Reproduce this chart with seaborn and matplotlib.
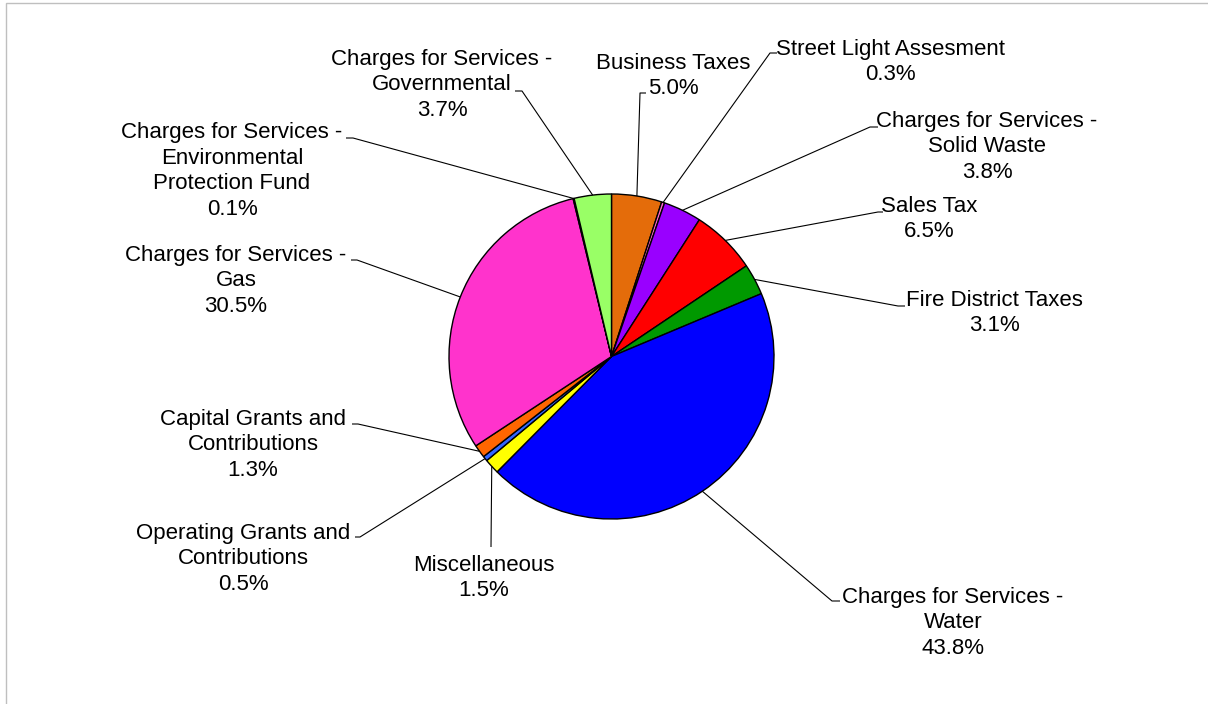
import numpy as np
import matplotlib
matplotlib.use("Agg")
import matplotlib.pyplot as plt
from matplotlib.patches import Rectangle
import seaborn as sns

# Revenue sources, listed clockwise from 12 o'clock
categories = [
    "Business Taxes",
    "Street Light Assesment",
    "Charges for Services -\nSolid Waste",
    "Sales Tax",
    "Fire District Taxes",
    "Charges for Services -\nWater",
    "Miscellaneous",
    "Operating Grants and\nContributions",
    "Capital Grants and\nContributions",
    "Charges for Services -\nGas",
    "Charges for Services -\nEnvironmental\nProtection Fund",
    "Charges for Services -\nGovernmental",
]
shares = [5.0, 0.3, 3.8, 6.5, 3.1, 43.8, 1.5, 0.5, 1.3, 30.5, 0.1, 3.7]
slice_colors = [
    "#E46C0A", "#FF66CC", "#9900FF", "#FF0000", "#009900", "#0000FF",
    "#FFFF00", "#3366FF", "#FF6600", "#FF33CC", "#99CCFF", "#99FF66",
]

# Layout (pixel space, y grows downward)
W, H = 1208, 704
CX, CY, R = 611.5, 356.5, 162.5
label_xy = [
    (673, 76), (890, 62), (987, 147), (929, 219), (994, 313), (953, 623),
    (484, 578), (243, 559), (253, 445), (236, 281), (232, 171), (442, 85),
]
elbow_xy = [
    (640, 93), (770, 53), (870, 127), (878, 212), (898, 306), (832, 601),
    (491, 547), (360, 537), (358, 424), (357, 260), (353, 138), (522, 91),
]
tail_dx = [6, 7, 8, 5, 7, 8, 0, -5, -6, -6, -7, -7]

sns.set_theme(style="white")
plt.rcParams["font.family"] = ["Liberation Sans", "DejaVu Sans"]

fig = plt.figure(figsize=(W / 100, H / 100), dpi=100)
fig.patch.set_facecolor("white")
ax = fig.add_axes([0, 0, 1, 1])

ax.pie(
    shares,
    colors=slice_colors,
    startangle=-90,
    counterclock=True,
    center=(CX, CY),
    radius=R,
    frame=True,
    wedgeprops=dict(edgecolor="black", linewidth=1.0),
)

ax.set_xlim(0, W)
ax.set_ylim(H, 0)
ax.set_aspect("equal")
ax.axis("off")

# Leader lines from each slice's rim midpoint to its label
total = float(np.sum(shares))
cum = np.cumsum(shares) - np.array(shares) / 2.0
for i, lab in enumerate(categories):
    ang = np.deg2rad(-90 + 360.0 * cum[i] / total)
    ax_, ay_ = CX + R * np.cos(ang), CY + R * np.sin(ang)
    ex, ey = elbow_xy[i]
    ax.plot([ax_, ex, ex + tail_dx[i]], [ay_, ey, ey],
            color="black", lw=0.8, solid_capstyle="butt", zorder=3)
    lx, ly = label_xy[i]
    ax.text(lx, ly, f"{lab}\n{shares[i]:.1f}%", ha="center", va="center",
            multialignment="center", fontsize=16, linespacing=1.3,
            color="black", zorder=4)

# Outer chart frame
fig.patches.append(Rectangle((6 / W, -0.1), 1.2, (H - 3) / H + 0.1,
                             transform=fig.transFigure, fill=False,
                             edgecolor="#BFBFBF", linewidth=1.0))

fig.savefig("out.png", dpi=100, facecolor="white")
